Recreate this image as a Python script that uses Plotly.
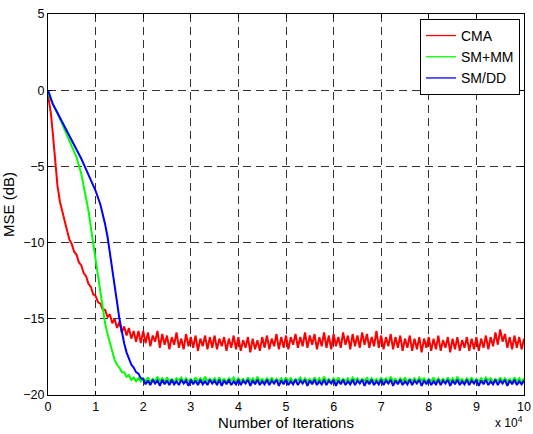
import plotly.graph_objects as go

# ---------------- data (x in units of 10^4 iterations) ----------------
x_ticks = [0, 1, 2, 3, 4, 5, 6, 7, 8, 9, 10]
tick_labels = ["0", "1", "2", "3", "4", "5", "6", "7", "8", "9", "10"]
y_ticks = [-20, -15, -10, -5, 0, 5]

cma_x_tr = [0, 0.03, 0.06, 0.1, 0.13, 0.16, 0.2, 0.25, 0.3, 0.35, 0.4, 0.45, 0.5, 0.55, 0.6, 0.65,
            0.7, 0.75, 0.8, 0.85, 0.9, 0.95, 1.0, 1.05, 1.1, 1.15, 1.2, 1.25, 1.3, 1.35, 1.4, 1.45,
            1.5, 1.55, 1.6, 1.65, 1.7, 1.75, 1.8, 1.85, 1.9, 1.95]
cma_y_tr = [-0.3, -0.8, -1.5, -2.8, -4.0, -5.2, -6.3, -7.3, -8.0, -8.7, -9.2, -9.8, -10.1, -10.6, -10.8, -11.3,
            -11.5, -12.0, -12.2, -12.7, -12.9, -13.4, -13.5, -13.9, -14.0, -14.4, -14.4, -14.9, -14.7, -15.3, -15.0, -15.6,
            -15.2, -15.9, -15.5, -16.1, -15.6, -16.3, -15.8, -16.5, -15.8, -16.6]
cma_y_ss = [-15.8, -16.6, -15.9, -16.8, -16.1, -16.5, -15.8, -16.9, -16.0, -16.7,
            -16.1, -17.0, -16.2, -16.7, -15.9, -16.9, -16.3, -17.0, -16.0, -16.8,
            -16.2, -16.9, -16.1, -17.1, -16.3, -16.8, -16.1, -17.0, -16.2, -16.9,
            -16.1, -17.0, -16.3, -16.8, -16.2, -17.1, -16.3, -16.9, -16.1, -17.0,
            -16.2, -17.1, -16.4, -16.9, -16.2, -17.2, -16.3, -17.0, -16.4, -17.1,
            -16.2, -16.9, -16.1, -17.0, -16.3, -16.8, -16.0, -17.0, -16.2, -16.9,
            -16.1, -17.0, -16.2, -16.7, -16.0, -16.9, -16.2, -16.8, -15.9, -16.9,
            -16.1, -16.7, -16.0, -17.0, -16.2, -16.8, -15.9, -16.9, -16.1, -17.0,
            -16.0, -16.8, -16.2, -16.9, -15.9, -16.7, -16.1, -17.0, -16.0, -16.8,
            -16.1, -16.9, -15.9, -16.7, -16.0, -16.9, -16.2, -16.8, -15.8, -16.9,
            -16.1, -17.0, -16.2, -16.8, -16.0, -17.0, -16.2, -16.9, -16.1, -17.1,
            -16.3, -16.9, -16.1, -17.1, -16.3, -17.0, -16.2, -17.2, -16.3, -16.9,
            -16.2, -17.1, -16.3, -17.0, -16.1, -17.1, -16.4, -16.9, -16.2, -17.2,
            -16.3, -17.0, -16.2, -17.1, -16.4, -16.9, -16.2, -17.1, -16.3, -17.0,
            -16.2, -17.1, -16.3, -16.9, -16.1, -17.0, -16.2, -16.8, -15.9, -16.7,
            -15.7, -16.5, -16.0, -16.9, -16.2, -17.0, -16.1, -16.9, -16.2, -17.0,
            -16.3]

smmm_x_tr = [0, 0.05, 0.1, 0.2, 0.3, 0.4, 0.5, 0.6, 0.7, 0.75, 0.8, 0.85, 0.9, 0.95, 1.0, 1.05,
             1.1, 1.15, 1.2, 1.25, 1.3, 1.35, 1.4, 1.45, 1.5, 1.55, 1.6, 1.65, 1.7, 1.75, 1.8, 1.85, 1.9, 1.95]
smmm_y_tr = [-0.2, -0.6, -0.9, -1.5, -2.2, -2.9, -3.6, -4.4, -5.5, -6.3, -7.0, -7.9, -9.0, -10.1, -11.1, -12.2,
             -13.3, -14.3, -15.3, -16.0, -16.6, -17.2, -17.7, -18.0, -18.2, -18.5, -18.5, -18.8, -18.7, -19.0, -18.85, -19.1, -18.9, -19.1]
smmm_y_ss = [-18.9, -19.1, -18.85, -19.15, -18.95, -19.1, -18.8, -19.1, -18.9, -19.15,
             -18.85, -19.1, -18.95, -19.15, -18.9, -19.05, -18.85, -19.15, -18.9, -19.1,
             -18.95, -19.15, -18.85, -19.1, -18.9, -19.15, -18.8, -19.1, -18.95, -19.1,
             -18.9, -19.15, -18.85, -19.1, -18.95, -19.15, -18.9, -19.05, -18.85, -19.15,
             -18.9, -19.1, -18.95, -19.15, -18.85, -19.1, -18.9, -19.15, -18.8, -19.1,
             -18.95, -19.15, -18.9, -19.1, -18.85, -19.15, -18.95, -19.1, -18.9, -19.15,
             -18.85, -19.1, -18.9, -19.15, -18.95, -19.05, -18.85, -19.15, -18.9, -19.1,
             -18.95, -19.15, -18.85, -19.1, -18.9, -19.15, -18.8, -19.1, -18.95, -19.15,
             -18.9, -19.1, -18.85, -19.15, -18.95, -19.1, -18.9, -19.15, -18.85, -19.05,
             -18.9, -19.15, -18.95, -19.1, -18.85, -19.15, -18.9, -19.1, -18.95, -19.15,
             -18.85, -19.1, -18.9, -19.15, -18.8, -19.1, -18.95, -19.15, -18.9, -19.1,
             -18.85, -19.15, -18.95, -19.1, -18.9, -19.15, -18.85, -19.05, -18.9, -19.15,
             -18.95, -19.1, -18.85, -19.15, -18.9, -19.1, -18.95, -19.15, -18.85, -19.1,
             -18.9, -19.15, -18.8, -19.1, -18.95, -19.15, -18.9, -19.1, -18.85, -19.15,
             -18.95, -19.1, -18.9, -19.15, -18.85, -19.05, -18.9, -19.15, -18.95, -19.1,
             -18.85, -19.15, -18.9, -19.1, -18.95, -19.15, -18.85, -19.1, -18.9, -19.15,
             -18.9]

smdd_x_tr = [0, 0.05, 0.1, 0.2, 0.3, 0.4, 0.5, 0.6, 0.7, 0.8, 0.9, 1.0, 1.1, 1.15, 1.2, 1.25,
             1.3, 1.35, 1.4, 1.45, 1.5, 1.55, 1.6, 1.65, 1.7, 1.75, 1.8, 1.85, 1.9, 1.95]
smdd_y_tr = [0.0, -0.5, -0.9, -1.5, -2.1, -2.6, -3.3, -3.9, -4.5, -5.2, -5.9, -6.6, -7.5, -8.1, -8.8, -9.6,
             -10.6, -11.7, -12.8, -13.9, -15.0, -15.9, -16.6, -17.2, -17.6, -18.0, -18.2, -18.5, -18.6, -18.9]
smdd_y_ss = [-18.95, -19.3, -19.05, -19.35, -19.0, -19.25, -19.05, -19.4, -19.0, -19.3,
             -19.05, -19.35, -19.0, -19.3, -19.1, -19.35, -19.0, -19.25, -19.05, -19.4,
             -19.0, -19.3, -19.05, -19.35, -19.0, -19.3, -19.1, -19.35, -19.0, -19.25,
             -19.05, -19.35, -19.0, -19.4, -19.05, -19.3, -19.0, -19.35, -19.1, -19.3,
             -19.0, -19.35, -19.05, -19.25, -19.0, -19.4, -19.05, -19.3, -19.0, -19.35,
             -19.1, -19.3, -19.0, -19.35, -19.05, -19.25, -19.0, -19.4, -19.05, -19.3,
             -19.0, -19.35, -19.1, -19.3, -19.0, -19.35, -19.05, -19.25, -19.0, -19.4,
             -19.05, -19.3, -19.0, -19.35, -19.1, -19.3, -19.0, -19.35, -19.05, -19.25,
             -19.0, -19.4, -19.05, -19.3, -19.0, -19.35, -19.1, -19.3, -19.0, -19.35,
             -19.05, -19.25, -19.0, -19.4, -19.05, -19.3, -19.0, -19.35, -19.1, -19.3,
             -19.0, -19.35, -19.05, -19.25, -19.0, -19.4, -19.05, -19.3, -19.0, -19.35,
             -19.1, -19.3, -19.0, -19.35, -19.05, -19.25, -19.0, -19.4, -19.05, -19.3,
             -19.0, -19.35, -19.1, -19.3, -19.0, -19.35, -19.05, -19.25, -19.0, -19.4,
             -19.05, -19.3, -19.0, -19.35, -19.1, -19.3, -19.0, -19.35, -19.05, -19.25,
             -19.0, -19.4, -19.05, -19.3, -19.0, -19.35, -19.1, -19.3, -19.0, -19.35,
             -19.05, -19.25, -19.0, -19.4, -19.05, -19.3, -19.0, -19.35, -19.1, -19.3,
             -19.05]
ss_x = [round(2.0 + 0.05 * i, 2) for i in range(161)]

series = [
    ("CMA", cma_x_tr + ss_x, cma_y_tr + cma_y_ss, "#ff0000"),
    ("SM+MM", smmm_x_tr + ss_x, smmm_y_tr + smmm_y_ss, "#00ff00"),
    ("SM/DD", smdd_x_tr + ss_x, smdd_y_tr + smdd_y_ss, "#0000ff"),
]

fig = go.Figure()
for name, xs, ys, col in series:
    fig.add_trace(go.Scatter(x=xs, y=ys, mode="lines", name=name, showlegend=False,
                             line=dict(color=col, width=2)))
# legend entries (thin lines, as in the original)
for name, xs, ys, col in series:
    fig.add_trace(go.Scatter(x=[None], y=[None], mode="lines", name=name,
                             line=dict(color=col, width=1.3)))

FAM = "Liberation Sans, Arial, sans-serif"
tick_font = dict(family=FAM, size=12.5, color="black")
title_font = dict(family=FAM, size=15, color="black")
axis_common = dict(showline=True, linecolor="black", linewidth=1, mirror="ticks",
                   ticks="inside", ticklen=4, tickcolor="black",
                   showgrid=True, gridcolor="#333333", griddash="8px,5px", gridwidth=1,
                   zeroline=False, tickfont=tick_font, automargin=False)

fig.update_layout(
    width=533, height=434,
    margin=dict(l=48, r=9, t=14, b=39, autoexpand=False),
    plot_bgcolor="white", paper_bgcolor="white",
    font=tick_font,
    xaxis=dict(range=[0, 10], tickvals=x_ticks, ticktext=tick_labels,
               title=dict(text="Number of Iterations", font=title_font, standoff=1), **axis_common),
    yaxis=dict(range=[-20, 5], tickvals=y_ticks,
               title=dict(text="MSE (dB)", font=title_font, standoff=6), **axis_common),
    legend=dict(x=0.9916, y=0.987, xanchor="right", yanchor="top",
                bordercolor="black", borderwidth=1, bgcolor="white",
                font=dict(family=FAM, size=14, color="black"), tracegroupgap=0,
                itemwidth=30),
    showlegend=True,
)
fig.add_annotation(xref="paper", yref="paper", x=1.003, y=-0.072, xanchor="right", yanchor="middle",
                   text="x 10<sup>4</sup>", showarrow=False, font=dict(family=FAM, size=12, color="black"))

fig.write_html("out.html")
